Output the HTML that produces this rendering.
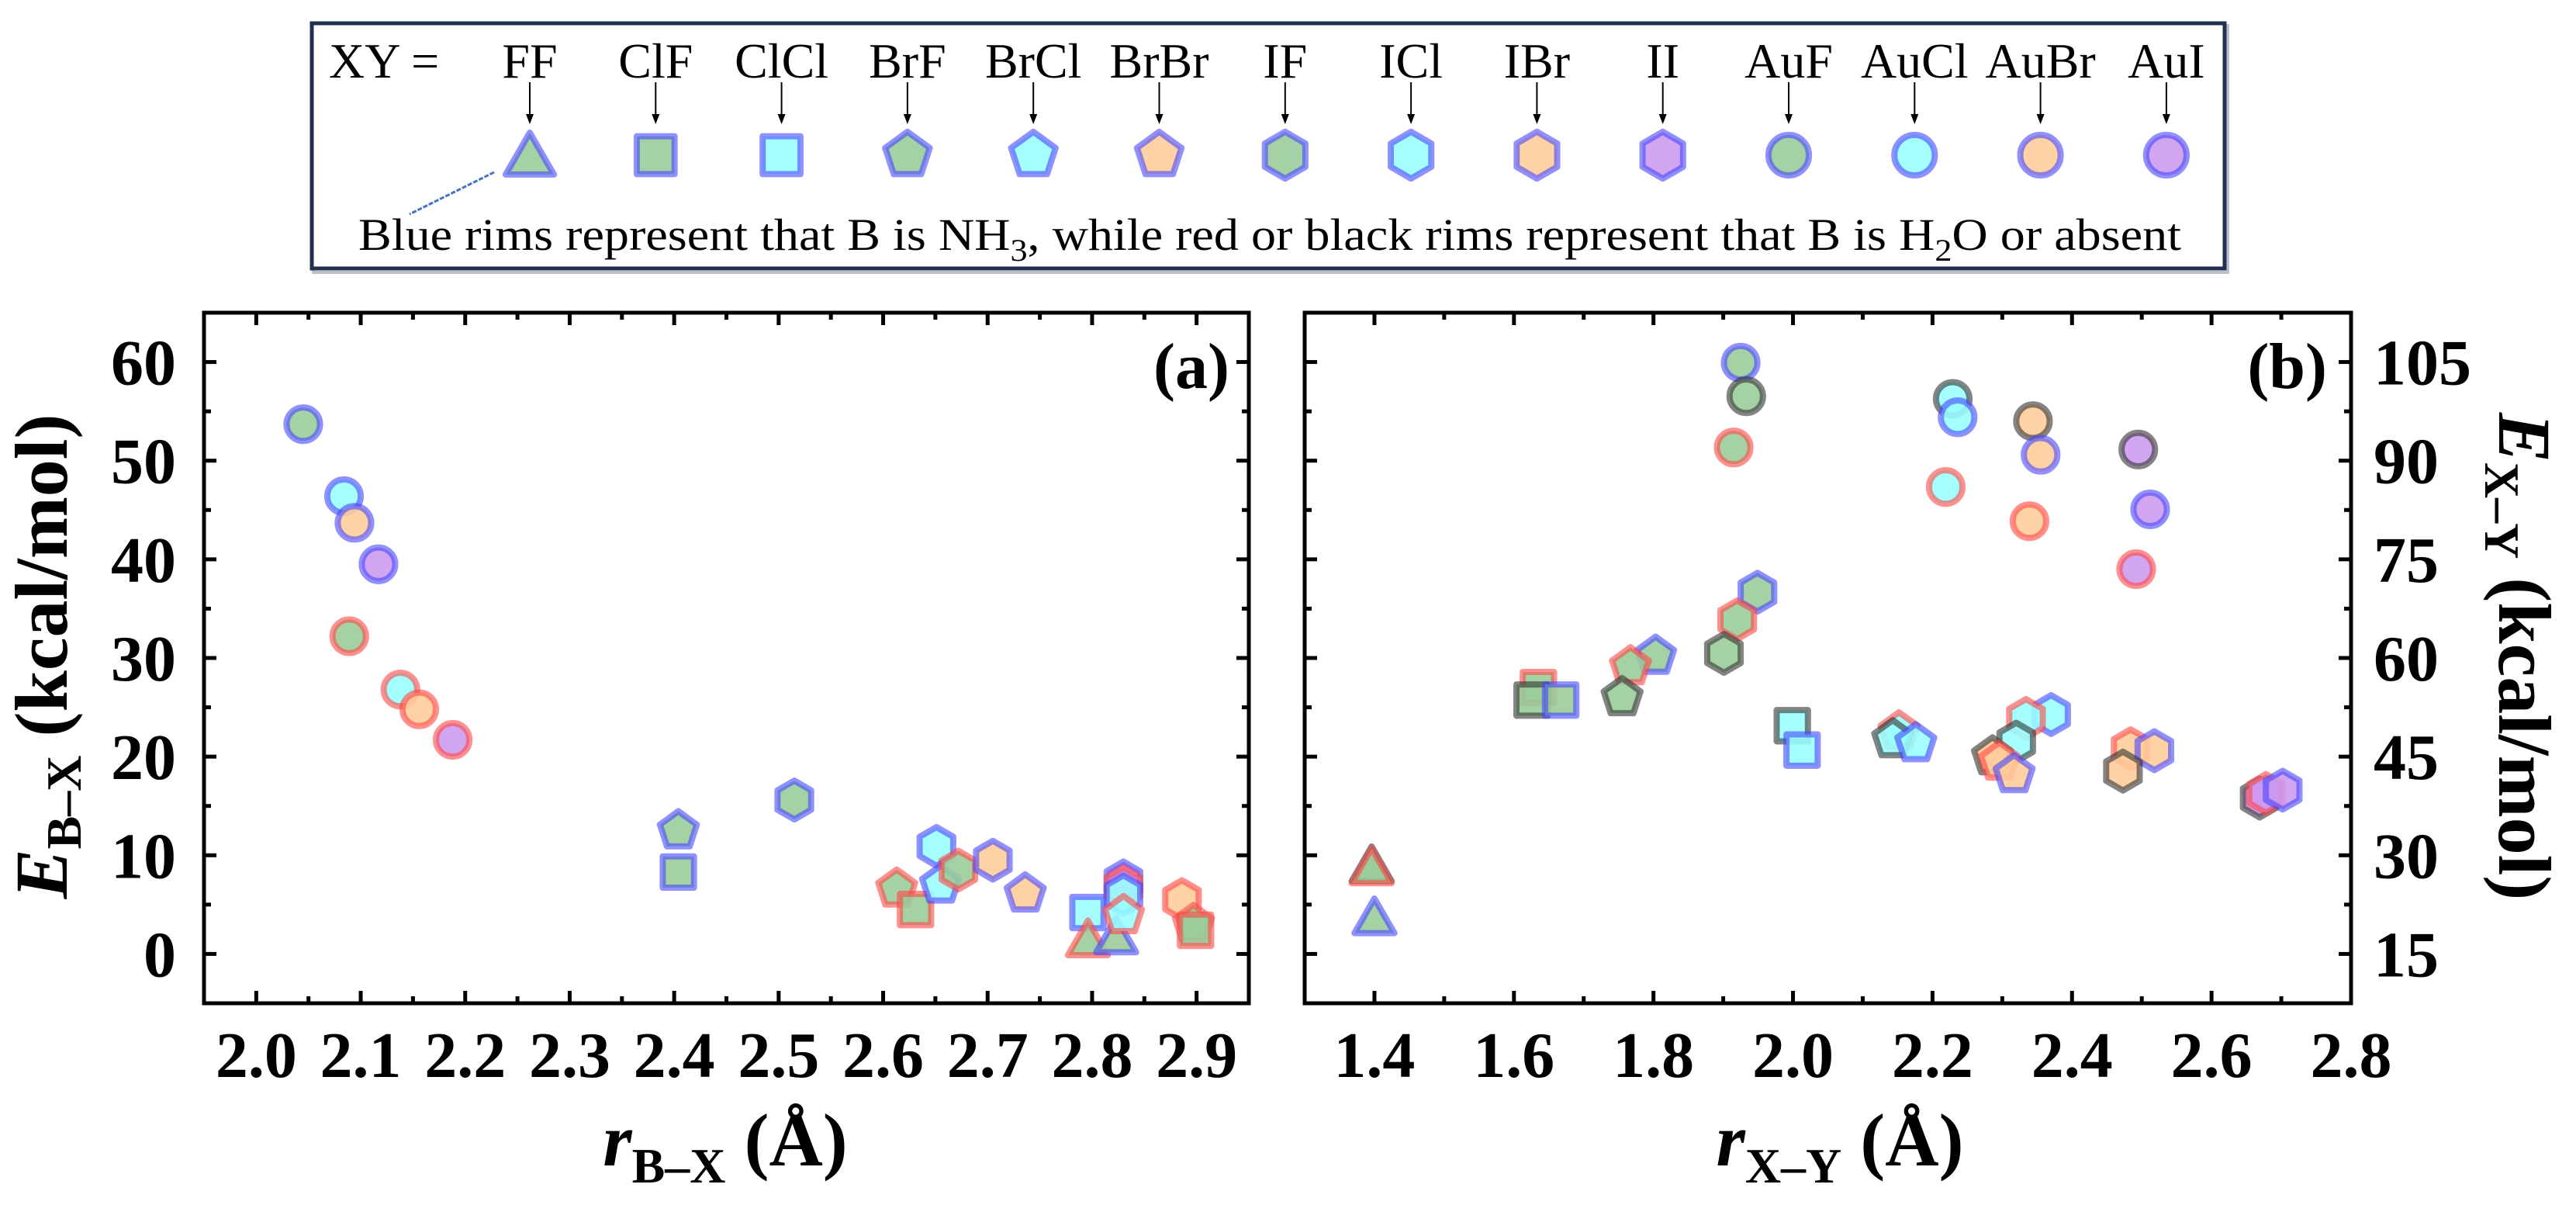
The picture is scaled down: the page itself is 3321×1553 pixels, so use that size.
<!DOCTYPE html>
<html><head><meta charset="utf-8"><style>
html,body{margin:0;padding:0;background:#fff;}
svg{display:block;}
text{font-family:"Liberation Serif",serif;}
</style></head><body>
<svg id="chart" width="3321" height="1553" viewBox="0 0 3321 1553" xmlns="http://www.w3.org/2000/svg">
<g id="legend">
 <rect x="404" y="33" width="2468" height="318" fill="none" stroke="#b8c0cc" stroke-width="4"/>
 <rect x="402" y="30" width="2466" height="316" fill="#fff" stroke="#1f3050" stroke-width="5"/>
 <text x="424" y="100" font-size="64">XY =</text>
 <text x="1637" y="322" font-size="58" text-anchor="middle" textLength="2350" lengthAdjust="spacingAndGlyphs">Blue rims represent that B is NH<tspan font-size="40" dy="14">3</tspan><tspan dy="-14">, while red or black rims represent that B is H</tspan><tspan font-size="40" dy="14">2</tspan><tspan dy="-14">O or absent</tspan></text>
 <line x1="637" y1="222" x2="528" y2="276" stroke="#4472c4" stroke-width="3" stroke-dasharray="6,2"/>
</g>
<g id="plotA"></g>
<g id="plotB"></g>
</svg>
<script>
// ---------- data ----------
const legendNames = ["FF","ClF","ClCl","BrF","BrCl","BrBr","IF","ICl","IBr","II","AuF","AuCl","AuBr","AuI"];
const legendShapes = ["tri","sq","sq","pent","pent","pent","hex","hex","hex","hex","circ","circ","circ","circ"];
const legendFills = ["g","g","c","g","c","o","g","c","o","p","g","c","o","p"];

// panel (a): r_B-X vs E_B-X ; rim: b=blue(NH3), r=red(H2O)
const aSpecies = ["AuF","AuCl","AuBr","AuI","AuF","AuCl","AuBr","AuI","BrF","ClF","IF","BrF","ClF","ICl","BrCl","IF","IBr","BrBr","ClCl","FF","FF","II","II","ICl","BrCl","IBr","BrF","ClF"];
const aRims =    ["b","b","b","b","r","r","r","r","b","b","b","r","r","b","b","r","b","b","b","r","b","b","r","b","r","r","r","r"];
const aX = [2.045,2.084,2.094,2.117,2.089,2.138,2.156,2.188,2.404,2.404,2.515,2.613,2.631,2.651,2.655,2.672,2.705,2.736,2.796,2.796,2.823,2.83,2.83,2.83,2.83,2.886,2.897,2.899];
const aY = [53.7,46.4,43.7,39.5,32.2,26.8,24.8,21.7,12.5,8.3,15.6,6.6,4.5,10.9,7.0,8.5,9.5,6.1,4.2,1.5,1.8,7.4,6.8,6.0,3.9,5.5,3.0,2.4];

// panel (b): r_X-Y vs E_X-Y ; rim: b=blue, r=red, k=black
const bSpecies = ["AuF","AuF","AuF","AuCl","AuCl","AuCl","AuBr","AuBr","AuBr","AuI","AuI","AuI","IF","IF","IF","BrF","BrF","BrF","FF","FF","FF","ClF","ClF","ClF","ClCl","ClCl","BrCl","BrCl","BrCl","ICl","ICl","ICl","BrBr","BrBr","BrBr","IBr","IBr","IBr","II","II","II"];
const bRims =    ["b","k","r","k","b","r","k","b","r","k","b","r","b","r","k","b","r","k","k","r","b","r","k","b","k","b","r","k","b","b","r","k","k","r","b","r","b","k","k","r","b"];
const bX = [1.925,1.933,1.915,2.229,2.236,2.219,2.344,2.355,2.339,2.495,2.512,2.492,1.949,1.920,1.901,1.803,1.767,1.755,1.396,1.396,1.400,1.635,1.626,1.667,1.999,2.013,2.152,2.143,2.176,2.370,2.334,2.320,2.286,2.296,2.317,2.484,2.518,2.473,2.669,2.678,2.702];
const bY = [104.9,99.8,92.0,99.4,96.6,86.0,96.0,90.9,80.8,91.7,82.6,73.5,70.0,65.8,60.7,60.3,58.7,54.0,28.5,28.2,20.6,55.5,53.6,53.6,49.7,46.0,48.8,47.6,47.0,51.4,50.8,47.2,45.0,44.2,42.3,46.2,45.9,42.8,38.7,39.4,39.9];

const aXTicks = ["2.0","2.1","2.2","2.3","2.4","2.5","2.6","2.7","2.8","2.9"];
const aYTicks = ["0","10","20","30","40","50","60"];
const bXTicks = ["1.4","1.6","1.8","2.0","2.2","2.4","2.6","2.8"];
const bYTicks = ["15","30","45","60","75","90","105"];

// ---------- styling ----------
const NS="http://www.w3.org/2000/svg";
const FILL={g:"#99cc99",c:"#99ffff",o:"#ffcc99",p:"#cc99ee"};
const RIM={b:"rgba(70,70,255,0.6)",r:"rgba(255,70,70,0.6)",k:"rgba(50,50,50,0.6)"};
function speciesIndex(s){return legendNames.indexOf(s);}
function mk(tag,attrs,parent){const e=document.createElementNS(NS,tag);for(const k in attrs)e.setAttribute(k,attrs[k]);parent.appendChild(e);return e;}

function shapePath(shape,cx,cy,s){
  const pts=[];
  if(shape==="circ") return null;
  if(shape==="sq"){const h=s*0.42;return `M${cx-h},${cy-h}H${cx+h}V${cy+h}H${cx-h}Z`;}
  let n,r,rot,sy=1;
  if(shape==="tri"){n=3;r=s*0.62;rot=-90;}
  if(shape==="pent"){n=5;r=s*0.52;rot=-90;}
  if(shape==="hex"){n=6;r=s*0.52;rot=-90;}
  for(let i=0;i<n;i++){const a=(rot+i*360/n)*Math.PI/180;pts.push([cx+r*Math.cos(a),cy+r*Math.sin(a)*sy+(shape==="tri"?s*0.12:0)]);}
  return "M"+pts.map(p=>p[0].toFixed(1)+","+p[1].toFixed(1)).join("L")+"Z";
}
function drawMarker(parent,shape,fill,rim,cx,cy,s,name){
  let el;
  const d=shapePath(shape,cx,cy,s);
  if(d===null){el=mk("ellipse",{cx:cx,cy:cy,rx:s*0.45,ry:s*0.45},parent);}
  else{el=mk("path",{d:d,"stroke-linejoin":"round"},parent);}
  el.setAttribute("fill",FILL[fill]);
  el.setAttribute("fill-opacity","0.88");
  el.setAttribute("stroke",RIM[rim]);
  el.setAttribute("stroke-width","8");
  
  
  return el;
}

// ---------- legend ----------
const legend=document.getElementById("legend");
legendNames.forEach((nm,i)=>{
  const x=683+i*162.3;
  const t=mk("text",{x:x,y:100,"font-size":64,"text-anchor":"middle"},legend);t.textContent=nm;
  
  
  const ln=mk("line",{x1:x,y1:106,x2:x,y2:150,stroke:"#000","stroke-width":2},legend);
  
  
  const ah=mk("path",{d:`M${x-5},${147}L${x+5},${147}L${x},${160}Z`,fill:"#000"},legend);
  
  
  drawMarker(legend,legendShapes[i],legendFills[i],"b",x,200,58,"legend-marker-"+nm.toLowerCase());
});

// ---------- axes ----------
function makePanel(g,o){
  const {L,R,T,B,x0,x1,y0,y1}=o;
  const sx=v=>L+(v-x0)/(x1-x0)*(R-L);
  const sy=v=>B-(v-y0)/(y1-y0)*(B-T);
  const fr=mk("rect",{x:L,y:T,width:R-L,height:B-T,fill:"none",stroke:"#000","stroke-width":5},g);
  
  
  return {sx,sy};
}
function tick(g,x1,y1,x2,y2,name){
  const t=mk("line",{x1:x1,y1:y1,x2:x2,y2:y2,stroke:"#000","stroke-width":5},g);
  
  
}
function label(g,txt,x,y,anchor,name,size){
  const t=mk("text",{x:x,y:y,"font-size":size||84,"font-weight":"bold","text-anchor":anchor},g);
  t.textContent=txt;
  
  
  return t;
}

// panel A
const gA=document.getElementById("plotA");
const A={id:"panel-a",L:263,R:1610,T:403,B:1293,x0:1.95,x1:2.95,y0:-5,y1:65};
const axA=makePanel(gA,A);
for(let k=0;k<=19;k++){const v=1.95+k*0.05;const x=axA.sx(v);const maj=(k%2===1);const len=maj?16:9;
  tick(gA,x,A.B,x,A.B-len,"a-x-tick");tick(gA,x,A.T,x,A.T+len,"a-x-tick-top");}
aXTicks.forEach(s=>{label(gA,s,axA.sx(parseFloat(s)),1388,"middle","a-x-tick-label");});
for(let v=-5;v<=65;v+=5){const y=axA.sy(v);const maj=(v%10===0);const len=maj?16:9;
  tick(gA,A.L,y,A.L+len,y,"a-y-tick");tick(gA,A.R,y,A.R-len,y,"a-y-tick-right");}
aYTicks.forEach(s=>{label(gA,s,227,axA.sy(parseFloat(s))+29,"end","a-y-tick-label");});
label(gA,"(a)",1585,500,"end","panel-a-label",84);
aX.forEach((x,i)=>{const si=speciesIndex(aSpecies[i]);
  drawMarker(gA,legendShapes[si],legendFills[si],aRims[i],axA.sx(x),axA.sy(aY[i]),48,"a-point-"+aSpecies[i].toLowerCase());});
// titles A
(function(){
  const t=mk("text",{x:0,y:0,"font-size":96,"font-weight":"bold","text-anchor":"middle",transform:"translate(86,846) rotate(-90)"},gA);
  t.innerHTML='<tspan font-style="italic">E</tspan><tspan font-size="64" dy="18">B–X</tspan><tspan dy="-18"> (kcal/mol)</tspan>';
  
  
  const x=mk("text",{x:935,y:1502,"font-size":96,"font-weight":"bold","text-anchor":"middle"},gA);
  x.innerHTML='<tspan font-style="italic">r</tspan><tspan font-size="64" dy="22">B–X</tspan><tspan dy="-22"> (Å)</tspan>';
  
  
})();

// panel B
const gB=document.getElementById("plotB");
const Bp={id:"panel-b",L:1682,R:3031,T:403,B:1293,x0:1.3,x1:2.8,y0:7.5,y1:112.5};
const axB=makePanel(gB,Bp);
for(let k=1;k<15;k++){const v=1.3+k*0.1;const x=axB.sx(v);const maj=(k%2===1);const len=maj?16:9;
  tick(gB,x,Bp.B,x,Bp.B-len,"b-x-tick");tick(gB,x,Bp.T,x,Bp.T+len,"b-x-tick-top");}
bXTicks.forEach(s=>{label(gB,s,axB.sx(parseFloat(s)),1388,"middle","b-x-tick-label");});
for(let v=7.5;v<=112.5;v+=7.5){const y=axB.sy(v);const maj=(Math.round(v/7.5)%2===0);const len=maj?16:9;
  tick(gB,Bp.L,y,Bp.L+len,y,"b-y-tick");tick(gB,Bp.R,y,Bp.R-len,y,"b-y-tick-right");}
bYTicks.forEach(s=>{label(gB,s,3060,axB.sy(parseFloat(s))+29,"start","b-y-tick-label");});
label(gB,"(b)",3000,500,"end","panel-b-label",84);
bX.forEach((x,i)=>{const si=speciesIndex(bSpecies[i]);
  drawMarker(gB,legendShapes[si],legendFills[si],bRims[i],axB.sx(x),axB.sy(bY[i]),48,"b-point-"+bSpecies[i].toLowerCase());});
(function(){
  const t=mk("text",{x:0,y:0,"font-size":96,"font-weight":"bold","text-anchor":"middle",transform:"translate(3222,846) rotate(90)"},gB);
  t.innerHTML='<tspan font-style="italic">E</tspan><tspan font-size="64" dy="18">X–Y</tspan><tspan dy="-18"> (kcal/mol)</tspan>';
  
  
  const x=mk("text",{x:2372,y:1502,"font-size":96,"font-weight":"bold","text-anchor":"middle"},gB);
  x.innerHTML='<tspan font-style="italic">r</tspan><tspan font-size="64" dy="22">X–Y</tspan><tspan dy="-22"> (Å)</tspan>';
  
  
})();
</script>
</body></html>
